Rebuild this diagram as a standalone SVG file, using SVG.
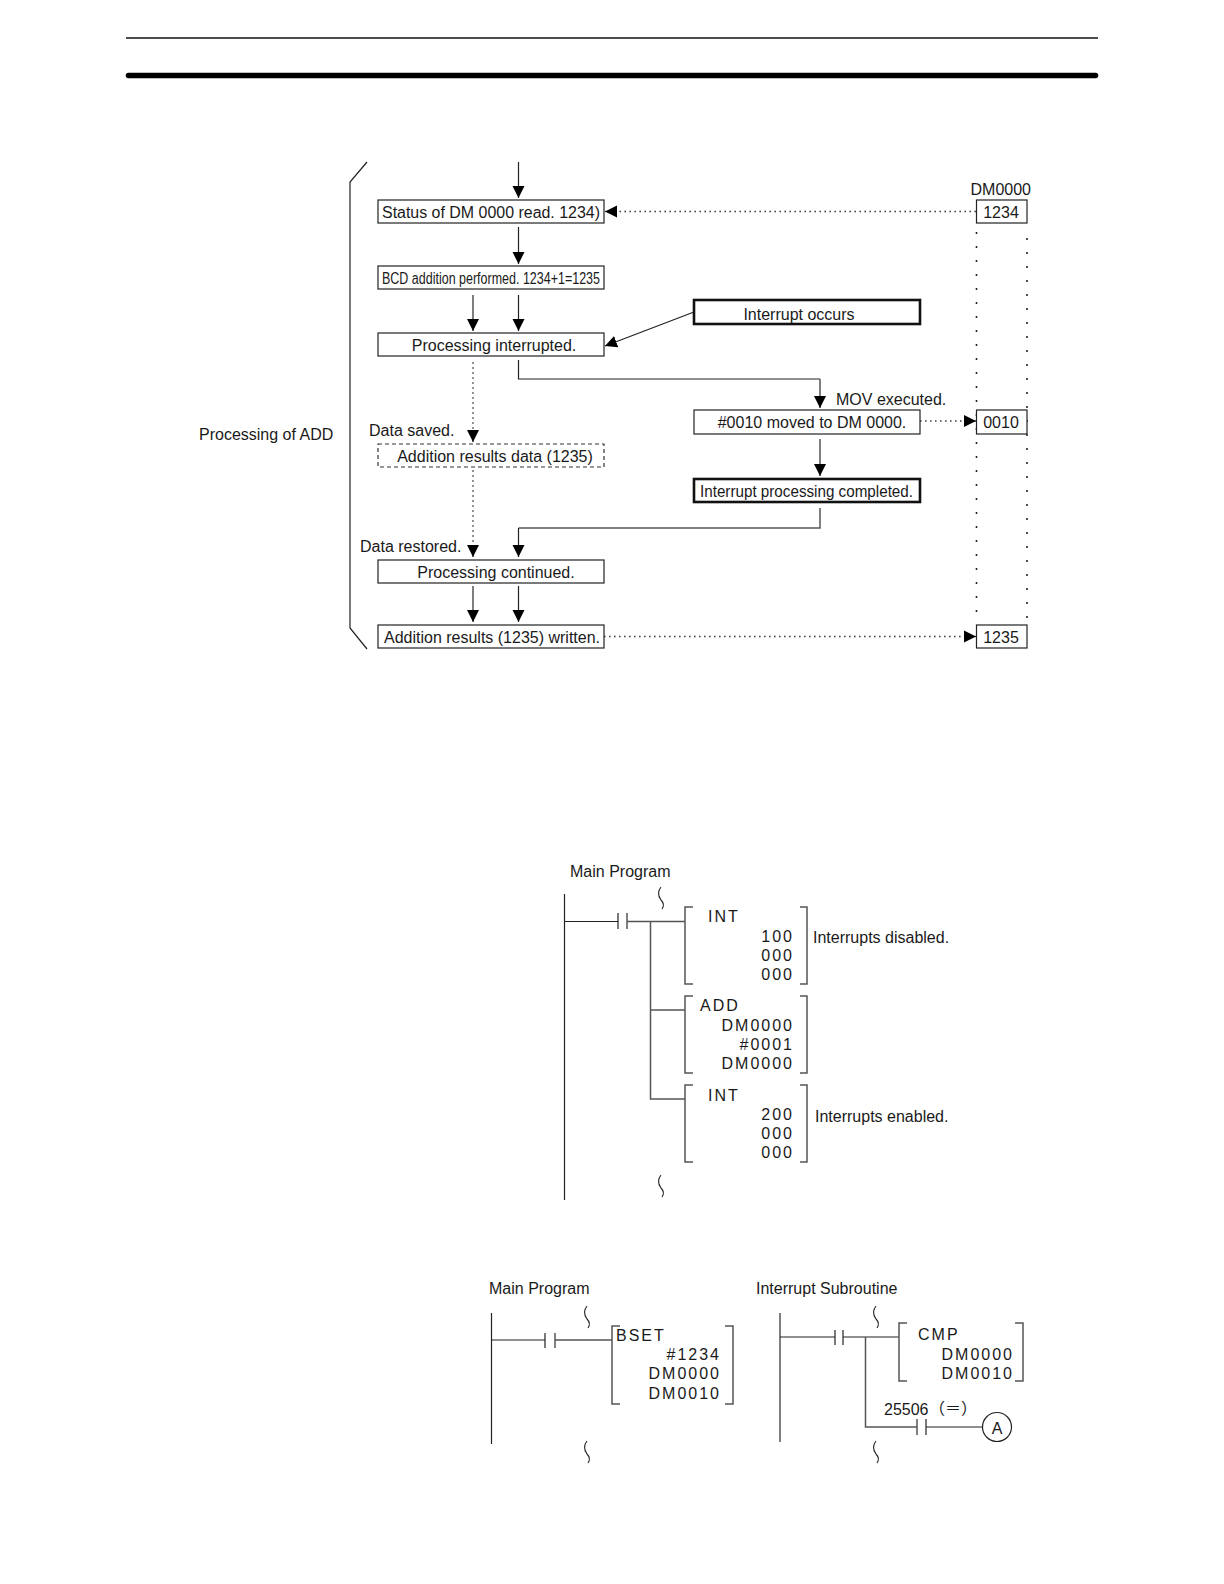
<svg xmlns="http://www.w3.org/2000/svg" width="1224" height="1584" viewBox="0 0 1224 1584">
<style>
text{font-family:"Liberation Sans",Arial,sans-serif;font-size:16px;fill:#1a1a1a;transform:translateY(.7px)}
.m{text-anchor:middle}
.e{text-anchor:end}
.l{letter-spacing:2px}
.box{fill:#fff;stroke:#222;stroke-width:1.2}
.thick{fill:#fff;stroke:#111;stroke-width:2.6}
.dash{fill:#fff;stroke:#333;stroke-width:1.2;stroke-dasharray:4 3}
.ln{fill:none;stroke:#222;stroke-width:1.2}
.g{fill:none;stroke:#555;stroke-width:1.5}
.dot{fill:none;stroke:#444;stroke-width:1.3;stroke-dasharray:1.600 3.400}
.dotv{fill:none;stroke:#222;stroke-width:1.6;stroke-dasharray:2 12}
.dotg{fill:none;stroke:#777;stroke-width:1.6;stroke-dasharray:2 3}
.a{marker-end:url(#arr)}
.sq{fill:none;stroke:#222;stroke-width:1.1}
</style>
<defs>
<marker id="arr" markerUnits="userSpaceOnUse" markerWidth="13" markerHeight="13" refX="12" refY="6.500" orient="auto"><path d="M0,0.500 L12,6.500 L0,12.500 Z" fill="#000"/></marker>
<path id="squig" class="sq" d="M2,0 C-2,5 -1,9 2,13 C5,16 5,19 3,22"/>
</defs>
<g id="page-rules">
<line x1="126" y1="38" x2="1098" y2="38" stroke="#111" stroke-width="1.6"/>
<line x1="128.500" y1="75.500" x2="1095.500" y2="75.500" stroke="#000" stroke-width="5.500" stroke-linecap="round"/>
</g>
<g id="connectors">
<path class="ln" d="M367,162 L350,182 L350,628 L367,649"/>
<path class="ln a" d="M518.500,162 V198"/>
<path class="ln a" d="M518.500,227 V264"/>
<path class="g a" d="M473,295 V331"/>
<path class="ln a" d="M518.500,295 V331"/>
<path class="ln a" d="M694,312 L605,346"/>
<path class="ln" d="M518.500,360 V379 H820"/>
<path class="g a" d="M820,379 V408"/>
<path class="dotg" d="M473,362 V430"/>
<path class="ln a" d="M473,430 V442"/>
<path class="dotg" d="M473,470 V545"/>
<path class="ln a" d="M473,545 V557"/>
<path class="g a" d="M820,439 V476"/>
<path class="g" d="M820,508 V528 H518.500"/>
<path class="ln a" d="M518.500,528 V557"/>
<path class="g a" d="M473,586 V622"/>
<path class="ln a" d="M518.500,586 V622"/>
<path class="dot" d="M976,211.500 H616"/>
<path class="ln a" d="M617,211.500 H605"/>
<path class="dot" d="M920,421 H964"/>
<path class="ln a" d="M964,421 H976"/>
<path class="dot" d="M604,636.500 H964"/>
<path class="ln a" d="M964,636.500 H976"/>
<path class="dotv" d="M976.500,232 V618"/>
<path class="dotv" d="M1027,238 V618"/>
</g>
<g id="n-processing-add"><text x="199" y="439">Processing of ADD</text></g>
<g id="n-status"><rect class="box" x="378" y="200" width="226" height="23"/><text x="382" y="217" textLength="218" lengthAdjust="spacingAndGlyphs">Status of DM 0000 read. 1234)</text></g>
<g id="n-bcd"><rect class="box" x="378" y="266" width="226" height="23"/><text x="382" y="283" textLength="218" lengthAdjust="spacingAndGlyphs">BCD addition performed. 1234+1=1235</text></g>
<g id="n-interrupted"><rect class="box" x="378" y="333" width="226" height="23"/><text class="m" x="494" y="350">Processing interrupted.</text></g>
<g id="n-interrupt-occurs"><rect class="thick" x="694" y="300" width="226" height="24"/><text class="m" x="799" y="319">Interrupt occurs</text></g>
<g id="n-mov-label"><text x="836" y="404">MOV executed.</text></g>
<g id="n-moved"><rect class="box" x="694" y="410" width="226" height="24"/><text class="m" x="812" y="427">#0010 moved to DM 0000.</text></g>
<g id="n-saved-label"><text x="369" y="435">Data saved.</text></g>
<g id="n-results-data"><rect class="dash" x="378" y="444" width="226" height="23"/><text class="m" x="495" y="461">Addition results data (1235)</text></g>
<g id="n-completed"><rect class="thick" x="694" y="479" width="226" height="23"/><text class="m" x="806.500" y="496" textLength="213" lengthAdjust="spacingAndGlyphs">Interrupt processing completed.</text></g>
<g id="n-restored-label"><text x="360" y="551">Data restored.</text></g>
<g id="n-continued"><rect class="box" x="378" y="560" width="226" height="23"/><text class="m" x="496" y="577">Processing continued.</text></g>
<g id="n-written"><rect class="box" x="378" y="625" width="226" height="23"/><text x="384" y="642" textLength="216" lengthAdjust="spacingAndGlyphs">Addition results (1235) written.</text></g>
<g id="n-dm-label"><text x="970.500" y="194">DM0000</text></g>
<g id="n-1234"><rect class="box" x="976.500" y="200" width="50.500" height="23"/><text class="m" x="1001" y="217">1234</text></g>
<g id="n-0010"><rect class="box" x="976.500" y="410" width="50.500" height="24"/><text class="m" x="1001" y="427">0010</text></g>
<g id="n-1235"><rect class="box" x="976.500" y="625" width="50.500" height="23"/><text class="m" x="1001" y="642">1235</text></g>

<g id="ladder-1">
<text x="570" y="876">Main Program</text>
<path class="ln" d="M564.500,894 V1200"/>
<path class="ln" d="M564.500,921.500 H618 M618,913 V929"/>
<path class="g" d="M627,913 V929 M627,921.500 H685 M650.500,921.500 V1099 H685 M650.500,1010 H685"/>
<use href="#squig" x="659" y="887"/>
<use href="#squig" x="659" y="1175"/>
<path class="g" d="M693,907 H685 V984 H693 M800,907 H807 V984 H800"/>
<path class="g" d="M693,996 H685 V1073 H693 M800,996 H807 V1073 H800"/>
<path class="g" d="M693,1085 H685 V1162 H693 M800,1085 H807 V1162 H800"/>
<text class="l" x="708" y="921">INT</text>
<text class="l e" x="794" y="941">100</text>
<text class="l e" x="794" y="960">000</text>
<text class="l e" x="794" y="979">000</text>
<text class="l" x="700" y="1010">ADD</text>
<text class="l e" x="794" y="1030">DM0000</text>
<text class="l e" x="794" y="1049">#0001</text>
<text class="l e" x="794" y="1068">DM0000</text>
<text class="l" x="708" y="1100">INT</text>
<text class="l e" x="794" y="1119">200</text>
<text class="l e" x="794" y="1138">000</text>
<text class="l e" x="794" y="1157">000</text>
<text x="813" y="942">Interrupts disabled.</text>
<text x="815" y="1121">Interrupts enabled.</text>
</g>

<g id="ladder-2">
<text x="489" y="1293">Main Program</text>
<path class="ln" d="M491.500,1313 V1444"/>
<path class="ln" d="M491.500,1340 H545 M545,1333 V1348"/>
<path class="g" d="M555,1333 V1348 M555,1340 H612"/>
<path class="g" d="M620,1326 H612 V1404 H620 M725,1326 H733 V1404 H725"/>
<use href="#squig" x="585" y="1306"/>
<use href="#squig" x="585" y="1441"/>
<text class="l" x="616" y="1340">BSET</text>
<text class="l e" x="721" y="1359">#1234</text>
<text class="l e" x="721" y="1378">DM0000</text>
<text class="l e" x="721" y="1398">DM0010</text>
</g>

<g id="ladder-3">
<text x="756" y="1293">Interrupt Subroutine</text>
<path class="g" d="M780,1313 V1442"/>
<path class="ln" d="M780,1337 H835 M835,1330 V1345 M843,1330 V1345 M843,1337 H899"/>
<path class="g" d="M865.500,1337 V1427 H917 M917,1419 V1435"/>
<path class="ln" d="M926,1419 V1435 M926,1427 H982.500"/>
<circle cx="997" cy="1427" r="14.500" fill="#fff" stroke="#222" stroke-width="1.2"/>
<text class="m" x="997" y="1433">A</text>
<use href="#squig" x="874" y="1306"/>
<use href="#squig" x="874" y="1441"/>
<path class="g" d="M907,1323 H899 V1381 H907 M1015,1381 H1023 V1323 H1015"/>
<text class="l" x="918" y="1339">CMP</text>
<text class="l e" x="1014" y="1359">DM0000</text>
<text class="l e" x="1014" y="1378">DM0010</text>
<text x="884" y="1414">25506</text>
<text x="929" y="1413" style="font-family:'Noto Sans CJK JP',sans-serif;font-size:16px">（＝）</text>
</g>
</svg>
